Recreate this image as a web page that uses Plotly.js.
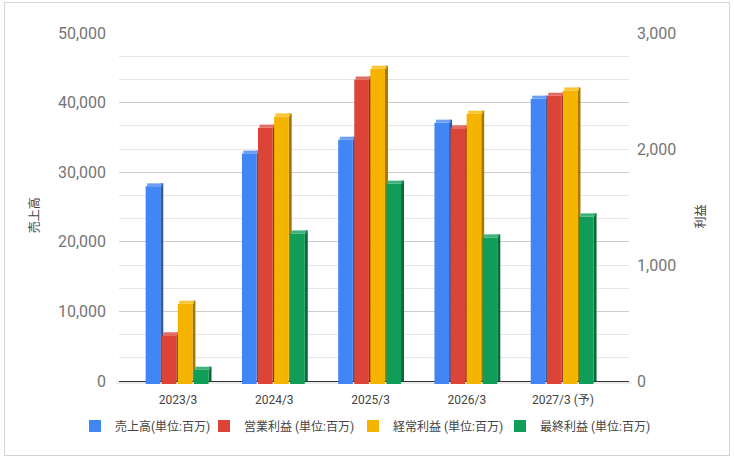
<!DOCTYPE html>
<html>
<head>
<meta charset="utf-8">
<script src="https://cdn.plot.ly/plotly-3.0.1.min.js"></script>
<style>
  html, body { margin:0; padding:0; background:#fff; }
  #wrap { position:relative; width:734px; height:459px; }
  #chart { position:absolute; left:0; top:0; width:734px; height:459px; }
  #frame { position:absolute; left:4px; top:2px; width:724px; height:452px; border:1px solid #d4d4d4; pointer-events:none; }
</style>
</head>
<body>
<div id="wrap"><div id="chart"></div><div id="frame"></div></div>
<script>
// ---- data ----
const categories = ['2023/3', '2024/3', '2025/3', '2026/3', '2027/3 (予)'];
const sales      = [28400, 33100, 35100, 37550, 41000];   // 売上高 (left axis)
const opProfit   = [420, 2210, 2625, 2205, 2485];         // 営業利益 (right axis)
const ordProfit  = [692, 2307, 2718, 2330, 2531];         // 経常利益 (right axis)
const netProfit  = [123, 1298, 1727, 1264, 1445];         // 最終利益 (right axis)
const seriesNames = ['売上高(単位:百万)', '営業利益 (単位:百万)', '経常利益 (単位:百万)', '最終利益 (単位:百万)'];
const leftTicks  = [0, 10000, 20000, 30000, 40000, 50000];
const rightTicks = [0, 1000, 2000, 3000];

// ---- styling ----
const FONT = 'Roboto, "Noto Sans CJK JP", sans-serif';
const CJK = '"Noto Sans CJK JP", Roboto, sans-serif';
const colors = ['#4285F4', '#DB4437', '#F4B400', '#0F9D58'];
const darks  = ['#2C5BA8', '#922D25', '#A67A00', '#0A6A3B'];
const lights = ['#6B9EF7', '#E46B61', '#F7C535', '#3DB27A'];
const dL = 431, dR = 25.86;   // 3D depth in axis units (~3px)
const W = 0.152, PITCH = 0.167, OFF0 = -0.336, SIDE = 0.031, SHIFT = 0.0156;
const legendKeys = ['legend', 'legend2', 'legend3', 'legend4'];
const legendX = [75, 204, 353, 500];   // px, left edge of each legend box

const traces = [];
function addSeries(i, vals, yaxis, d) {
  const off = OFF0 + i * PITCH;
  traces.push({type:'bar', x:categories, y:vals, base:0, offset:off + W, width:SIDE,
    yaxis:yaxis, marker:{color:darks[i], line:{width:0}}, showlegend:false, hoverinfo:'skip'});
  traces.push({type:'bar', x:categories, y:vals.map(() => d), base:vals.map(v => v - d),
    offset:off + SHIFT, width:W, yaxis:yaxis, marker:{color:lights[i], line:{width:0}},
    showlegend:false, hoverinfo:'skip'});
  traces.push({type:'bar', name:seriesNames[i], x:categories, y:vals, base:-d, offset:off, width:W,
    yaxis:yaxis, legend:legendKeys[i], marker:{color:colors[i], line:{width:0}}});
}
addSeries(0, sales, 'y', dL);
addSeries(1, opProfit, 'y2', dR);
addSeries(2, ordProfit, 'y2', dR);
addSeries(3, netProfit, 'y2', dR);

const layout = {
  width:734, height:459,
  margin:{l:119, r:105, t:33, b:75, pad:0},
  paper_bgcolor:'#fff', plot_bgcolor:'#fff',
  barmode:'overlay',
  showlegend:true,
  font:{family:FONT, color:'#444'},
  xaxis:{
    type:'category', range:[-0.613, 4.685], showgrid:false, zeroline:false, showline:false,
    ticks:'', tickfont:{family:FONT, size:12, color:'#444'}, ticklabelstandoff:7, fixedrange:true
  },
  yaxis:{
    range:[-dL, 50000], tickvals:leftTicks, tickformat:',d', showgrid:true, gridcolor:'#cccccc', gridwidth:1,
    minor:{dtick:10000/3, tick0:0, showgrid:true, gridcolor:'#e6e6e6', gridwidth:1, ticks:''},
    zeroline:true, zerolinecolor:'#333', zerolinewidth:1, showline:false, ticks:'',
    tickfont:{family:FONT, size:16, color:'#757575'}, ticklabelstandoff:12, fixedrange:true
  },
  yaxis2:{
    range:[-dR, 3000], tickvals:rightTicks, tickformat:',d', overlaying:'y', side:'right',
    showgrid:false, zeroline:false, showline:false, ticks:'',
    tickfont:{family:FONT, size:16, color:'#757575'}, ticklabelstandoff:7, fixedrange:true
  },
  shapes:[{type:'rect', xref:'paper', x0:-0.005, x1:1.005, yref:'y', y0:-dL, y1:0,
    fillcolor:'#ebebeb', line:{width:0}, layer:'below'}],
  annotations:[
    {text:'売上高', xref:'paper', yref:'paper', x:-0.1686, y:0.481, xanchor:'center', yanchor:'middle',
     textangle:-90, showarrow:false, font:{family:CJK, size:12, color:'#444444'}},
    {text:'利益', xref:'paper', yref:'paper', x:1.138, y:0.478, xanchor:'center', yanchor:'middle',
     textangle:-90, showarrow:false, font:{family:CJK, size:12, color:'#444444'}}
  ]
};
legendKeys.forEach((k, i) => {
  layout[k] = {
    orientation:'h', xref:'container', yref:'container', x:legendX[i] / 734, xanchor:'left',
    y:1 - 426 / 459, yanchor:'middle', bgcolor:'rgba(0,0,0,0)', borderwidth:0,
    font:{family:FONT, size:12, color:'#444'}, itemclick:false, itemdoubleclick:false
  };
});

Plotly.newPlot('chart', traces, layout, {displayModeBar:false, staticPlot:true});
</script>
</body>
</html>
